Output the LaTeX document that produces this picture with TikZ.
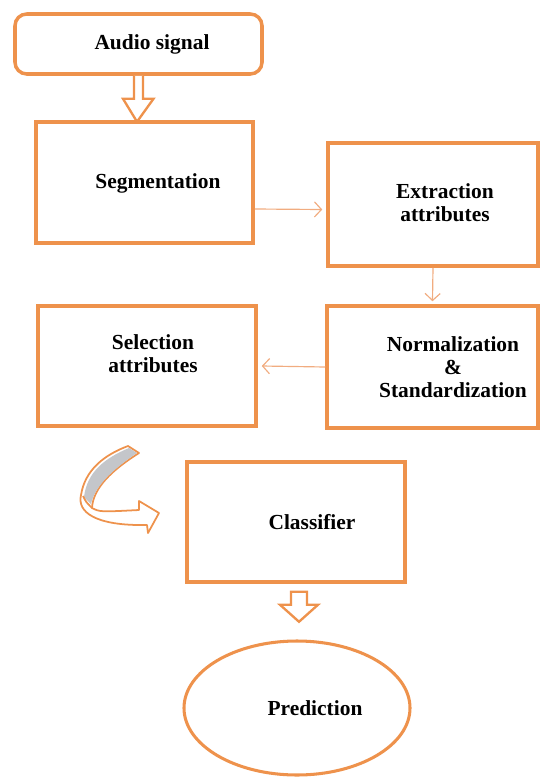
\documentclass[tikz,border=0pt]{standalone}
\usepackage{fontspec}
\setmainfont{Liberation Serif}
\usetikzlibrary{arrows.meta,calc,fit,shapes.geometric}
\definecolor{boxorange}{RGB}{238,146,76}
\definecolor{linkorange}{RGB}{241,172,128}
\definecolor{ribbongray}{RGB}{196,198,202}

\begin{document}
\begin{tikzpicture}[x=0.03cm, y=-0.03cm,
  box/.style={draw=boxorange, line width=3pt, inner sep=0pt},
  lbl/.style={align=center, font=\bfseries\fontsize{18.3}{19.8}\selectfont},
  link/.style={draw=linkorange, line width=1pt, -{Straight Barb[length=6pt,width=13pt]}},
  hollow/.style={draw=boxorange, line width=2pt, fill=white, line join=miter}]
\useasboundingbox (0,0) rectangle (540,780);

\node[box, rounded corners=10pt, fit={(15,14) (262,74)}] (audio) {};
\node[lbl] (audiotext) at (152,44) {Audio signal};

\node[box, fit={(36,122) (253,243)}] (seg) {};
\node[lbl] (segtext) at (158,183) {Segmentation};

\node[box, fit={(328,143) (538,266)}] (ext) {};
\node[lbl] (exttext) at (445,203) {Extraction\\attributes};

\node[box, fit={(327,306) (538,428)}] (norm) {};
\node[lbl] (normtext) at (453,367) {Normalization\\\&\\Standardization};

\node[box, fit={(38,306) (256,426)}] (sel) {};
\node[lbl] (seltext) at (153,354) {Selection\\attributes};

\node[box, fit={(187,462) (405,582)}] (cls) {};
\node[lbl] (clstext) at (312,522) {Classifier};

\node[draw=boxorange, line width=2.6pt, ellipse, minimum width=6.78cm, minimum height=4.02cm] (pred) at (297,708) {};
\node[lbl] (predtext) at (315,708) {Prediction};

% hollow arrows
\draw[hollow] ($(audio.south)+(-4.5,0)$) -- ++(0,23) -- ++(-11,0) -- ($(audio.south)+(-1.5,46)$)
  -- ($(audio.south)+(15,23)$) -- ++(-10.5,0) -- ($(audio.south)+(4.5,0)$);
\draw[hollow] ($(cls.south)+(-5,8)$) -- ++(0,13) -- ++(-11,0) -- ($(cls.south)+(3,38)$)
  -- ($(cls.south)+(22,21)$) -- ++(-11,0) -- ++(0,-13) -- cycle;

% thin links
\draw[link] ($(seg.east)+(0,26.5)$) -- ($(ext.west)+(-4,5)$);
\draw[link] (ext.south) -- ($(norm.north)+(0,-3)$);
\draw[link] (norm.west) -- ($(sel.east)+(4,0)$);

% curved ribbon arrow
\draw[draw=boxorange, line width=1.5pt, fill=white, line join=round]
  (128,446) -- (139,453) .. controls (112,470) and (93,488) .. (92,508)
  .. controls (100,512) .. (139,510) -- (139,501) -- (159,513) -- (148,533) -- (147,525)
  .. controls (95,526) and (77,512) .. (81,495) .. controls (85,470) and (104,455) .. (128,446) -- cycle;
\fill[ribbongray] (129,448) -- (137,453) .. controls (112,470) and (95,486) .. (91,504)
  -- (84,497) .. controls (87,472) and (105,458) .. (129,448) -- cycle;
\draw[draw=boxorange, line width=1.5pt] (92,508) .. controls (86,502) .. (83,496);
\end{tikzpicture}
\end{document}
